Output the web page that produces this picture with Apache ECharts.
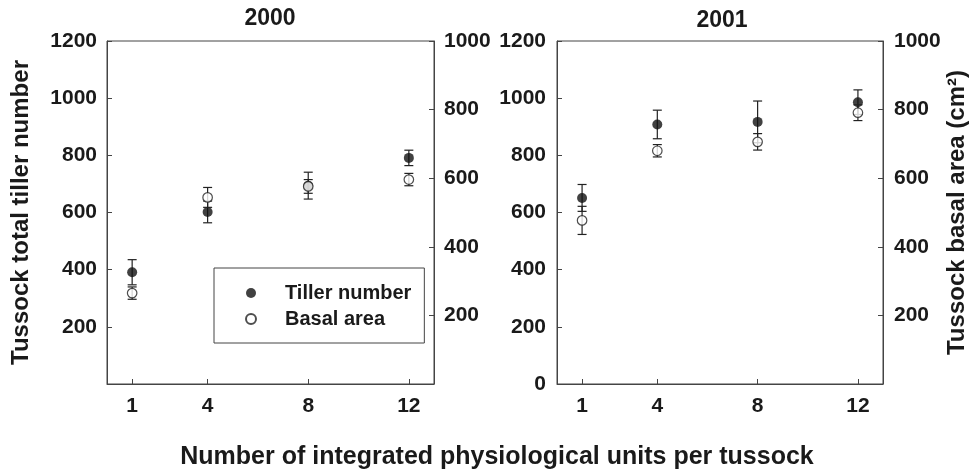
<!DOCTYPE html>
<html>
<head>
<meta charset="utf-8">
<script src="https://cdn.jsdelivr.net/npm/echarts@6/dist/echarts.min.js"></script>
<style>html,body{margin:0;padding:0;background:#fff;}#chart{width:972px;height:472px;}</style>
</head>
<body>
<div id="chart"></div>
<script>
// ---- data ----
const xValues = [1, 4, 8, 12];
const xTickLabels = [1, 4, 8, 12];
const panelTitles = ['2000', '2001'];
const tiller2000 = [391, 602, 694, 791];
const tillerErr2000 = [44, 38, 47, 27];
const basal2000 = [265, 544, 576, 596];
const basalErr2000 = [18, 29, 20, 18];
const tiller2001 = [651, 908, 917, 986];
const tillerErr2001 = [47, 50, 73, 43];
const basal2001 = [477, 680, 706, 791];
const basalErr2001 = [41, 18, 24, 23];
const leftAxisTitle = 'Tussock total tiller number';
const rightAxisTitle = 'Tussock basal area (cm²)';
const xAxisTitle = 'Number of integrated physiological units per tussock';

const FONT = '"Liberation Sans", Arial, Helvetica, sans-serif';
const TXT = '#1a1a1a';
const AX = '#444';

function pts(vals) { return xValues.map((x, i) => [x, vals[i]]); }
function errs(vals, e) { return xValues.map((x, i) => [x, vals[i] - e[i], vals[i] + e[i]]); }

function errRender(params, api) {
  const x = api.value(0), lo = api.value(1), hi = api.value(2);
  const a = api.coord([x, hi]), b = api.coord([x, lo]);
  const w = 4.5;
  const st = { stroke: '#222', lineWidth: 1.2 };
  return {
    type: 'group',
    children: [
      { type: 'line', shape: { x1: a[0], y1: a[1], x2: b[0], y2: b[1] }, style: st },
      { type: 'line', shape: { x1: a[0] - w, y1: a[1], x2: a[0] + w, y2: a[1] }, style: st },
      { type: 'line', shape: { x1: b[0] - w, y1: b[1], x2: b[0] + w, y2: b[1] }, style: st }
    ]
  };
}

function xAxisDef(gi) {
  return {
    type: 'value', gridIndex: gi, min: 0, max: 13,
    axisLine: { lineStyle: { color: AX, width: 1 } },
    axisTick: { inside: true, length: 5, customValues: xValues, lineStyle: { color: AX } },
    axisLabel: { customValues: xTickLabels, margin: 12, fontSize: 21, fontWeight: 'bold', color: TXT, fontFamily: FONT },
    splitLine: { show: false }
  };
}
function yAxisDef(gi, pos, max, showZero, margin, name, gap) {
  const d = {
    type: 'value', gridIndex: gi, position: pos, min: 0, max: max, interval: 200,
    axisLine: { show: true, lineStyle: { color: AX, width: 1 } },
    axisTick: { show: true, inside: true, length: 5, lineStyle: { color: AX } },
    axisLabel: {
      margin: margin, fontSize: 21, fontWeight: 'bold', color: TXT, fontFamily: FONT,
      formatter: v => (v === 0 && !showZero) ? '' : String(v)
    },
    splitLine: { show: false }
  };
  if (name) {
    d.name = name; d.nameLocation = 'middle'; d.nameGap = gap; d.nameRotate = 90;
    d.nameTextStyle = { fontSize: 24, fontWeight: 'bold', color: TXT, fontFamily: FONT };
  }
  return d;
}

const filledStyle = { color: '#111' };
const openStyle = { color: '#fff', borderColor: '#222', borderWidth: 1.2 };

function panelSeries(gi, tv, te, bv, be) {
  return [
    { type: 'custom', name: 'tErr' + gi, xAxisIndex: gi, yAxisIndex: gi * 2, z: 2, renderItem: errRender, data: errs(tv, te) },
    { type: 'scatter', name: 'Tiller number', xAxisIndex: gi, yAxisIndex: gi * 2, z: 3, symbol: 'circle', symbolSize: 10, itemStyle: filledStyle, data: pts(tv) },
    { type: 'custom', name: 'bErr' + gi, xAxisIndex: gi, yAxisIndex: gi * 2 + 1, z: 4, renderItem: errRender, data: errs(bv, be) },
    { type: 'scatter', name: 'Basal area', xAxisIndex: gi, yAxisIndex: gi * 2 + 1, z: 5, symbol: 'circle', symbolSize: 9.5, itemStyle: openStyle, data: pts(bv) }
  ];
}

const chart = echarts.init(document.getElementById('chart'), null, { renderer: 'canvas' });
chart.setOption({
  animation: false,
  backgroundColor: '#fff',
  grid: [
    { left: 107, top: 41, width: 327, height: 343, show: true, borderColor: AX, borderWidth: 1, backgroundColor: 'transparent' },
    { left: 557, top: 41, width: 326, height: 343, show: true, borderColor: AX, borderWidth: 1, backgroundColor: 'transparent' }
  ],
  xAxis: [xAxisDef(0), xAxisDef(1)],
  yAxis: [
    yAxisDef(0, 'left', 1200, false, 10, leftAxisTitle, 74),
    yAxisDef(0, 'right', 1000, false, 10),
    yAxisDef(1, 'left', 1200, true, 11),
    yAxisDef(1, 'right', 1000, false, 11, rightAxisTitle, 62)
  ],
  legend: {
    data: ['Tiller number', 'Basal area'],
    orient: 'vertical', left: 214, top: 268,
    padding: [15, 13, 14, 31],
    itemGap: 6, itemWidth: 10, itemHeight: 10,
    borderColor: AX, borderWidth: 1,
    selectedMode: false,
    textStyle: { fontSize: 20, fontWeight: 'bold', color: TXT, fontFamily: FONT, padding: [0, 0, 0, 24] }
  },
  graphic: [
    { type: 'text', style: { text: panelTitles[0], x: 270, y: 19, align: 'center', verticalAlign: 'middle', fontSize: 23, fontWeight: 'bold', fill: TXT, fontFamily: FONT } },
    { type: 'text', style: { text: panelTitles[1], x: 722, y: 21, align: 'center', verticalAlign: 'middle', fontSize: 23, fontWeight: 'bold', fill: TXT, fontFamily: FONT } },
    { type: 'text', style: { text: xAxisTitle, x: 497, y: 457, align: 'center', verticalAlign: 'middle', fontSize: 25, fontWeight: 'bold', fill: TXT, fontFamily: FONT } }
  ],
  series: [].concat(
    panelSeries(0, tiller2000, tillerErr2000, basal2000, basalErr2000),
    panelSeries(1, tiller2001, tillerErr2001, basal2001, basalErr2001)
  )
});
</script>
</body>
</html>
